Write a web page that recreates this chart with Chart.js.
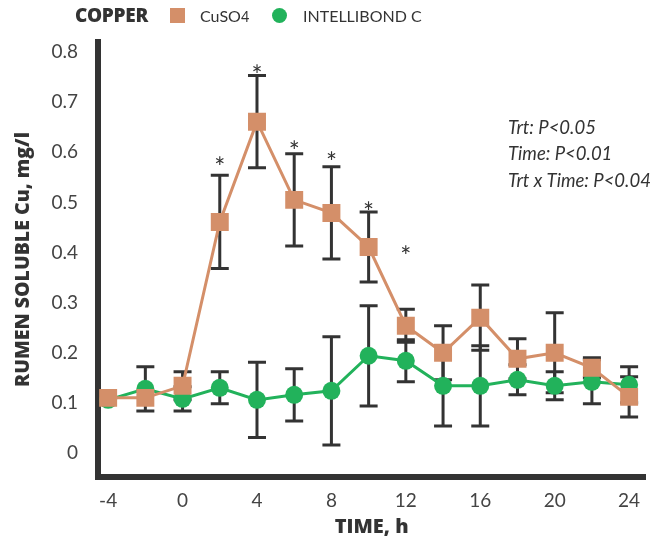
<!DOCTYPE html>
<html>
<head>
<meta charset="utf-8">
<script src="https://cdn.jsdelivr.net/npm/chart.js@4.4.0/dist/chart.umd.min.js"></script>
<style>
body { margin: 0; background: #fff; }
#wrap { position: relative; width: 658px; height: 544px; }
#chart { position: absolute; left: 0; top: 0; }
.lg { position: absolute; font-family: Lato, 'Open Sans', sans-serif; color: #333; white-space: nowrap; }
.lg-title { left: 75px; top: 2px; font-family: 'Open Sans', Lato, sans-serif; font-size: 19px; font-weight: 800; letter-spacing: -0.3px; }
.lg-text { top: 6px; font-size: 16px; }
.lg-box { top: 8px; width: 15px; height: 15px; }
</style>
</head>
<body>
<div id="wrap">
  <canvas id="chart" width="658" height="544"></canvas>
  <div class="lg lg-title">COPPER</div>
  <div class="lg lg-box" style="left:170px;background:#d48f69"></div>
  <div class="lg lg-text" style="left:200px">CuSO<span style="font-size:0.9em">4</span></div>
  <div class="lg lg-box" style="left:272px;background:#22b25b;border-radius:50%"></div>
  <div class="lg lg-text" style="left:303px">INTELLIBOND C</div>
</div>
<script>
// sampling times, h
var times = [-4, -2, 0, 2, 4, 6, 8, 10, 12, 14, 16, 18, 20, 22, 24];

// rumen soluble Cu, mg/l (mean and error)
var cuso4 = [0.11, 0.11, 0.134, 0.461, 0.661, 0.505, 0.479, 0.411, 0.254, 0.20, 0.27, 0.188, 0.20, 0.17, 0.112];
var cuso4Err = [0, 0, 0.028, 0.093, 0.092, 0.092, 0.092, 0.07, 0.033, 0.054, 0.065, 0.04, 0.08, 0.02, 0.04];
var intellibond = [0.106, 0.128, 0.108, 0.13, 0.106, 0.116, 0.124, 0.194, 0.184, 0.134, 0.134, 0.146, 0.134, 0.142, 0.136];
var intellibondErr = [0, 0.044, 0.024, 0.032, 0.075, 0.052, 0.108, 0.10, 0.042, 0.08, 0.08, 0.03, 0.028, 0.044, 0.036];

// significance marks
var sigTimes = [2, 4, 6, 8, 10, 12];
var sigLevels = [0.579, 0.762, 0.611, 0.589, 0.489, 0.401];

var xTicks = [-4, 0, 4, 8, 12, 16, 20, 24];
var yTicks = [0, 0.1, 0.2, 0.3, 0.4, 0.5, 0.6, 0.7, 0.8];
var stats = ['Trt: P<0.05', 'Time: P<0.01', 'Trt x Time: P<0.04'];

var orange = '#d48f69';
var green = '#22b25b';
var dark = '#333333';
var fontFam = "Lato, 'Open Sans', sans-serif";
var heavyFam = "'Open Sans', Lato, sans-serif";

function pts(ys) {
    return times.map(function(t, i) { return {x: t, y: ys[i]}; });
}

var errorBars = {
    id: 'errorBars',
    beforeDatasetsDraw: function(chart) {
        var ctx = chart.ctx;
        var xs = chart.scales.x, ys = chart.scales.y;
        ctx.save();
        ctx.strokeStyle = dark;
        ctx.lineWidth = 3;
        chart.data.datasets.forEach(function(ds) {
            if (!ds.errors) return;
            ds.data.forEach(function(p, i) {
                var e = ds.errors[i];
                if (!e) return;
                var x = xs.getPixelForValue(p.x);
                var top = ys.getPixelForValue(p.y + e);
                var bot = ys.getPixelForValue(p.y - e);
                ctx.beginPath();
                ctx.moveTo(x, top); ctx.lineTo(x, bot);
                ctx.moveTo(x - 9, top); ctx.lineTo(x + 9, top);
                ctx.moveTo(x - 9, bot); ctx.lineTo(x + 9, bot);
                ctx.stroke();
            });
        });
        ctx.restore();
    }
};

var notes = {
    id: 'notes',
    afterDatasetsDraw: function(chart) {
        var ctx = chart.ctx;
        var xs = chart.scales.x, ys = chart.scales.y;
        ctx.save();
        ctx.fillStyle = dark;
        ctx.textAlign = 'center';
        ctx.textBaseline = 'middle';
        ctx.font = '26px ' + fontFam;
        for (var i = 0; i < sigTimes.length; i++) {
            ctx.fillText('*', xs.getPixelForValue(sigTimes[i]), ys.getPixelForValue(sigLevels[i]) + 6);
        }
        ctx.textAlign = 'left';
        ctx.font = 'italic 18.5px ' + fontFam;
        for (var j = 0; j < stats.length; j++) {
            ctx.fillText(stats[j], 508, 128 + j * 26.5);
        }
        ctx.restore();
    }
};

var ctx = document.getElementById('chart').getContext('2d');
var myChart = new Chart(ctx, {
    type: 'line',
    data: {
        datasets: [{
            label: 'CuSO4',
            data: pts(cuso4),
            errors: cuso4Err,
            borderColor: orange,
            backgroundColor: orange,
            borderWidth: 3,
            pointStyle: 'rect',
            pointRadius: 12.7,
            pointBorderWidth: 0,
            tension: 0,
            order: 0
        }, {
            label: 'INTELLIBOND C',
            data: pts(intellibond),
            errors: intellibondErr,
            borderColor: green,
            backgroundColor: green,
            borderWidth: 3,
            pointStyle: 'circle',
            pointRadius: 9,
            pointBorderWidth: 0,
            tension: 0,
            order: 1
        }]
    },
    options: {
        responsive: false,
        animation: false,
        layout: { padding: { top: 42, right: 10, left: 0, bottom: 0 } },
        plugins: {
            legend: { display: false },
            tooltip: { enabled: false }
        },
        scales: {
            x: {
                type: 'linear',
                min: -4.545,
                max: 24.87,
                afterBuildTicks: function(s) { s.ticks = xTicks.map(function(v) { return {value: v}; }); },
                afterFit: function(s) { s.height = 67; },
                grid: { display: false, drawTicks: false },
                border: { display: true, color: dark, width: 6 },
                ticks: {
                    color: '#444',
                    padding: 12,
                    font: { family: fontFam, size: 19 },
                    callback: function(v) { return String(v); }
                },
                title: {
                    display: true,
                    text: 'TIME, h',
                    color: dark,
                    padding: { top: 0, bottom: 5 },
                    font: { family: heavyFam, size: 20, weight: 800 }
                }
            },
            y: {
                min: -0.0479,
                max: 0.820,
                afterBuildTicks: function(s) { s.ticks = yTicks.map(function(v) { return {value: v}; }); },
                afterFit: function(s) { s.width = 98; },
                grid: { display: false, drawTicks: false },
                border: { display: true, color: dark, width: 6 },
                ticks: {
                    color: '#444',
                    padding: 20,
                    font: { family: fontFam, size: 19 },
                    callback: function(v) { return v === 0 ? '0' : v.toFixed(1); }
                },
                title: {
                    display: true,
                    text: 'RUMEN SOLUBLE Cu, mg/l',
                    color: dark,
                    padding: { top: 12, bottom: 0 },
                    font: { family: heavyFam, size: 19.5, weight: 800 }
                }
            }
        }
    },
    plugins: [errorBars, notes]
});
</script>
</body>
</html>
